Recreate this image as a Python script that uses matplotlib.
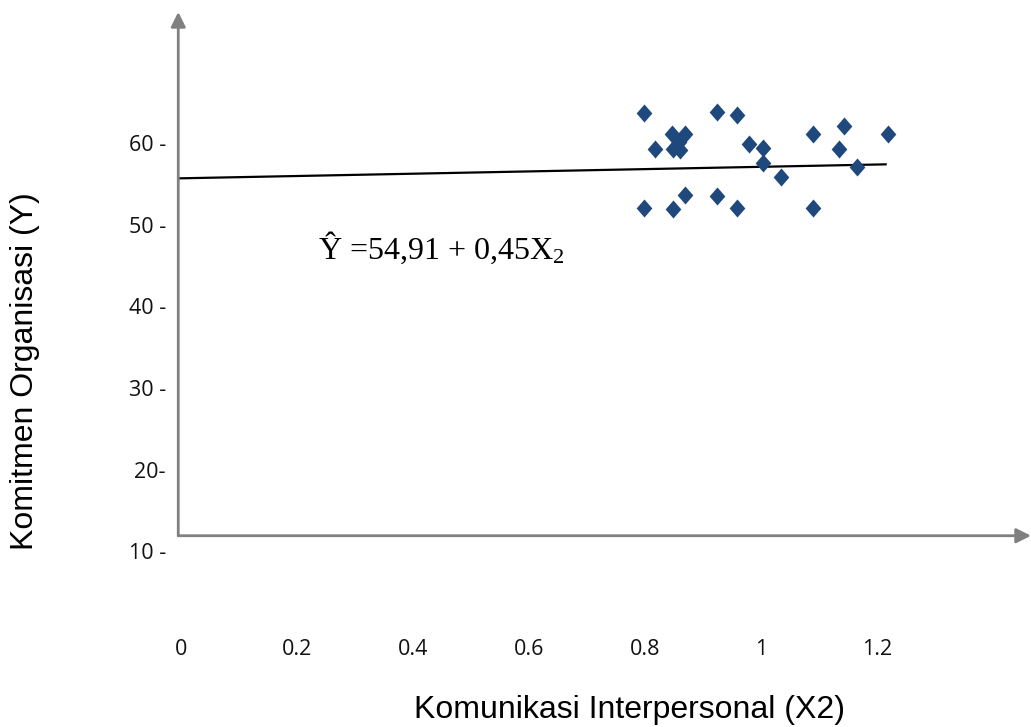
import matplotlib
matplotlib.use("Agg")
import matplotlib.pyplot as plt
from matplotlib.path import Path
import numpy as np

# ---- data ----
x_values = [0.804, 0.929, 0.963, 0.852, 0.875, 0.864, 0.822, 0.854, 0.866,
            0.984, 1.008, 1.008, 1.039, 1.094, 1.149, 1.225, 1.139, 1.170,
            0.804, 0.854, 0.874, 0.929, 0.963, 1.094]
y_values = [64.04, 64.09, 63.76, 61.43, 61.40, 60.49, 59.60, 59.56, 59.47,
            60.17, 59.68, 57.84, 56.20, 61.40, 62.45, 61.40, 59.60, 57.35,
            52.33, 52.21, 53.96, 53.87, 52.33, 52.33]
line_x = [0.0, 1.222]
line_y = [56.0, 57.72]
x_ticks = [0, 0.2, 0.4, 0.6, 0.8, 1, 1.2]
x_tick_labels = ["0", "0.2", "0.4", "0.6", "0.8", "1", "1.2"]
y_ticks = [10, 20, 30, 40, 50, 60]
y_tick_labels = ["10 -", "20-", "30 -", "40 -", "50 -", "60 -"]
equation = "Ŷ =54,91 + 0,45X$_{2}$"
x_label = "Komunikasi Interpersonal (X2)"
y_label = "Komitmen Organisasi (Y)"

plt.rcParams['mathtext.fontset'] = 'custom'
plt.rcParams['mathtext.rm'] = 'Liberation Serif'
plt.rcParams['mathtext.it'] = 'Liberation Serif'

fig = plt.figure(figsize=(10.31, 7.27), dpi=100)
ax = fig.add_axes([0, 0, 1, 1])
ax.set_xlim(-0.3069, 1.4707)
ax.set_ylim(-11.24, 77.86)
ax.axis('off')

# axes with arrows (axes fraction coordinates)
axis_col = '#808080'
ax.annotate('', xy=(0.1729, 0.9835), xytext=(0.1729, 0.2631),
            xycoords='axes fraction', textcoords='axes fraction',
            arrowprops=dict(arrowstyle='-|>', color=axis_col, lw=2,
                            mutation_scale=22, shrinkA=0, shrinkB=0))
ax.annotate('', xy=(1.0, 0.2631), xytext=(0.1729, 0.2631),
            xycoords='axes fraction', textcoords='axes fraction',
            arrowprops=dict(arrowstyle='-|>', color=axis_col, lw=2,
                            mutation_scale=22, shrinkA=0, shrinkB=0))

# regression line
ax.plot(line_x, line_y, color='black', lw=1.6, solid_capstyle='butt')

# diamond markers
diamond = Path([(0, 1), (0.87, 0), (0, -1), (-0.87, 0), (0, 1)],
               [Path.MOVETO, Path.LINETO, Path.LINETO, Path.LINETO, Path.CLOSEPOLY])
ax.plot(x_values, y_values, linestyle='none', marker=diamond, markersize=13,
        color='#1F497D', markeredgewidth=0)

# tick labels
tick_font = dict(family='Open Sans', fontsize=15.5, color='#111111')
for v, lab in zip(x_ticks, x_tick_labels):
    ax.text(v + 0.005, 0.106, lab, transform=ax.get_xaxis_transform(),
            ha='center', va='center', **tick_font)
for v, lab in zip(y_ticks, y_tick_labels):
    ax.text(0.161, v, lab, transform=ax.get_yaxis_transform(),
            ha='right', va='center', **tick_font)

# equation
fig.text(0.3084, 0.6437, equation, family='Liberation Serif', fontsize=23,
         ha='left', va='baseline', color='black')

# axis titles
fig.text(0.611, 0.0234, x_label, family='Liberation Sans', fontsize=23,
         ha='center', va='center', color='black')
fig.text(0.0242, 0.490, y_label, family='Liberation Sans', fontsize=23,
         ha='center', va='center', rotation=90, color='black')

fig.savefig('out.png', dpi=100)
